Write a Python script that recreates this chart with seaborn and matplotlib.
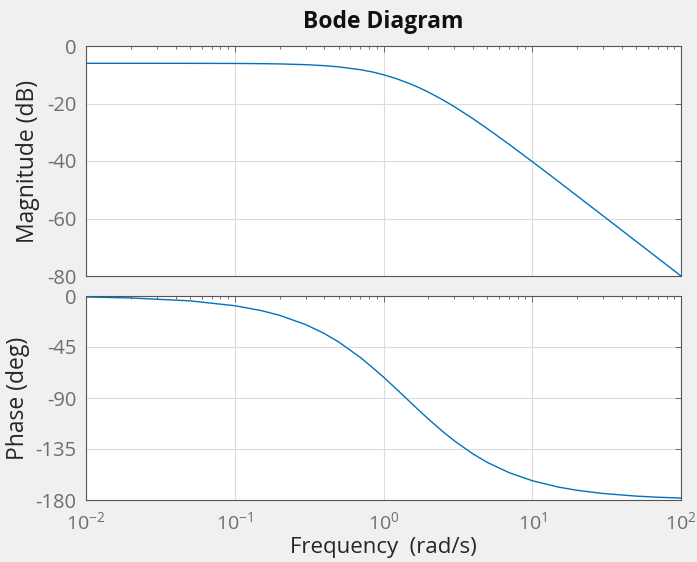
import matplotlib
matplotlib.use("Agg")
import matplotlib.pyplot as plt
import seaborn as sns
import pandas as pd
from matplotlib.ticker import LogLocator, FixedLocator, NullFormatter

# Frequency response samples (rad/s, dB, deg)
freq = [0.01, 0.02, 0.05, 0.1, 0.15, 0.2, 0.3, 0.4, 0.5, 0.7, 0.85, 1.0, 1.2, 1.5, 1.75,
        2.0, 2.5, 3.0, 4.0, 5.0, 7.0, 10.0, 15.0, 20.0, 30.0, 50.0, 70.0, 100.0]
magnitude_db = [-6.02, -6.02, -6.03, -6.07, -6.14, -6.23, -6.49, -6.84, -7.25, -8.25,
                -9.07, -10.00, -11.23, -13.08, -14.58, -16.02, -18.71, -21.14, -25.31,
                -28.77, -34.23, -40.21, -47.14, -52.10, -59.11, -67.97, -73.81, -80.00]
phase_deg = [-0.86, -1.72, -4.29, -8.57, -12.82, -17.02, -25.23, -33.11, -40.60, -54.28,
             -63.5, -71.57, -81.15, -93.18, -101.5, -108.43, -119.54, -127.87, -139.40,
             -146.89, -155.92, -162.98, -168.60, -171.43, -174.28, -176.56, -177.55, -178.28]

mag_ticks = [0, -20, -40, -60, -80]
phase_ticks = [0, -45, -90, -135, -180]

df = pd.DataFrame({"freq": freq, "mag": magnitude_db, "phase": phase_deg})

sns.set_theme(style="white")
plt.rcParams["font.family"] = ["Open Sans", "DejaVu Sans"]
plt.rcParams["axes.unicode_minus"] = False

bg = "#f0f0f0"
line_color = "#0072BD"
tick_color = "#6e6e6e"
label_color = "#262626"

fig = plt.figure(figsize=(6.97, 5.62), dpi=100, facecolor=bg)
W, H = 697, 562
ax1 = fig.add_axes([86 / W, 1 - 276 / H, (681 - 86) / W, (276 - 46) / H])
ax2 = fig.add_axes([86 / W, 1 - 500 / H, (681 - 86) / W, (500 - 296) / H])

sns.lineplot(data=df, x="freq", y="mag", ax=ax1, color=line_color, linewidth=1.0)
sns.lineplot(data=df, x="freq", y="phase", ax=ax2, color=line_color, linewidth=1.0)

for ax, ticks in [(ax1, mag_ticks), (ax2, phase_ticks)]:
    ax.set_facecolor("white")
    ax.set_xscale("log")
    ax.set_xlim(0.01, 100)
    ax.set_ylim(min(ticks), max(ticks))
    ax.yaxis.set_major_locator(FixedLocator(ticks))
    ax.xaxis.set_major_locator(LogLocator(base=10, numticks=10))
    ax.xaxis.set_minor_locator(LogLocator(base=10, subs=range(2, 10), numticks=20))
    ax.xaxis.set_minor_formatter(NullFormatter())
    ax.grid(True, which="major", color="#dcdcdc", linewidth=0.8)
    ax.tick_params(axis="both", which="both", direction="in", top=True, right=True,
                   colors="#555555", labelcolor=tick_color, length=4, width=0.6)
    ax.tick_params(axis="y", labelsize=14.5, pad=7)
    ax.tick_params(axis="x", which="minor", length=2.5)
    for s in ax.spines.values():
        s.set_color("#555555")
        s.set_linewidth(0.8)
    ax.set_xlabel("")

ax1.set_ylabel("Magnitude (dB)", fontsize=16.5, color=label_color)
ax2.set_ylabel("Phase (deg)", fontsize=16.5, color=label_color)
ax1.yaxis.label.set_verticalalignment("center")
ax2.yaxis.label.set_verticalalignment("center")
ax1.yaxis.set_label_coords((28 - 86) / 595, 0.5)
ax2.yaxis.set_label_coords((18 - 86) / 595, 0.5)

ax1.set_xticklabels([])
ax2.tick_params(axis="x", labelsize=14, pad=8)
ax2.set_xlabel("Frequency  (rad/s)", fontsize=16, color=label_color)
ax2.xaxis.label.set_verticalalignment("center")
ax2.xaxis.set_label_coords(0.5, (500 - 548) / 204)

ax1.text(0.5, (276 - 22) / 230, "Bode Diagram", transform=ax1.transAxes,
         ha="center", va="center", fontsize=16.5, fontweight="bold", color="#111111")

fig.savefig("out.png", dpi=100, facecolor=bg)
